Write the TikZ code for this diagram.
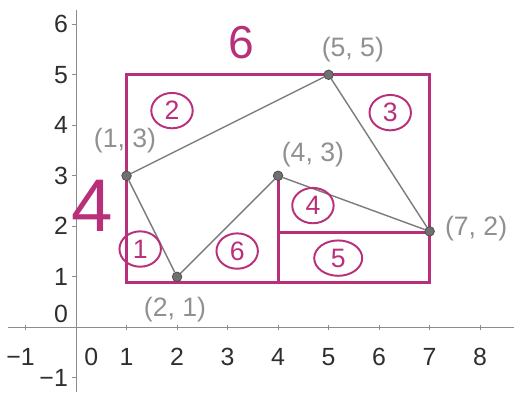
\documentclass[tikz,border=0pt]{standalone}
\usepackage{fontspec}
\setmainfont{Liberation Sans}
\usetikzlibrary{positioning,shapes.geometric}
\definecolor{accent}{HTML}{B8307A}
\definecolor{neutral}{HTML}{7C7C7C}
\definecolor{axisgray}{HTML}{2E2E2E}
\tikzset{
  axislabel/.style={text=axisgray, font=\fontsize{14}{16}\selectfont, inner sep=1pt},
  ptlabel/.style={text=neutral!85, font=\fontsize{15}{18}\selectfont, inner sep=1pt},
  region/.style={draw=accent, ellipse, line width=1.1pt, minimum width=0.82cm, minimum height=0.7cm,
    inner sep=0pt, text=accent, font=\fontsize{15}{18}\selectfont},
  side/.style={text=accent, inner sep=0pt},
  vertex/.style={circle, fill=neutral!90!black, draw=neutral!60!black, inner sep=0pt, minimum size=0.19cm}
}

\begin{document}
\begin{tikzpicture}
  \useasboundingbox (-1.505,-1.29) rectangle (8.67,6.48);
  % axes
  \draw[axisgray!55, line width=0.5pt] (-1.35,0) -- (8.67,0);
  \draw[axisgray!55, line width=0.5pt] (0,-1.29) -- (0,6.28);
  \foreach \x in {1,...,8} {
    \draw[axisgray!55] (\x,-0.05) -- (\x,0.05);
    \node[axislabel] (xl\x) at (\x,-0.58) {\x};
  }
  \draw[axisgray!55] (-1,-0.05) -- (-1,0.05);
  \node[axislabel] (xlneg) at (-1.1,-0.58) {−1};
  \node[axislabel] (xlzero) at (0.3,-0.58) {0};
  \foreach \y in {1,...,6} {
    \draw[axisgray!55] (-0.07,\y) -- (0,\y);
    \node[axislabel, anchor=east] (yl\y) at (-0.12,\y) {\y};
  }
  \draw[axisgray!55] (-0.07,-1) -- (0,-1);
  \node[axislabel, anchor=east] (ylneg) at (-0.12,-1) {−1};
  \node[axislabel, anchor=east] (ylzero) at (-0.12,0.27) {0};

  % bounding rectangle
  \coordinate (SW) at (1,0.88);
  \coordinate (NE) at (7,5);
  \coordinate (M) at (4,0.88);
  \coordinate (R) at (7,1.87);
  \draw[accent, line width=1.6pt] (SW) rectangle (NE);
  \draw[accent, line width=1.6pt] (M) -- (4,3);
  \draw[accent, line width=1.6pt] (4,1.87) -- (R);

  % polygon
  \node[vertex] (A) at (1,3) {};
  \node[vertex] (B) at (5,5) {};
  \node[vertex] (C) at (7,1.9) {};
  \node[vertex] (D) at (4,3) {};
  \node[vertex] (E) at (2,1) {};
  \draw[neutral, line width=0.8pt] (A) -- (B) -- (C) -- (D) -- (E) -- (A);
  \node[ptlabel] (Alab) at (0.97,3.7) {(1, 3)};
  \node[ptlabel] (Blab) at (5.48,5.5) {(5, 5)};
  \node[ptlabel] (Clab) at (7.92,1.95) {(7, 2)};
  \node[ptlabel] (Dlab) at (4.69,3.42) {(4, 3)};
  \node[ptlabel] (Elab) at (1.96,0.36) {(2, 1)};

  % regions
  \node[region] (r1) at (1.27,1.55) {1};
  \node[region] (r2) at (1.9,4.29) {2};
  \node[region] (r3) at (6.22,4.25) {3};
  \node[region] (r4) at (4.69,2.41) {4};
  \node[region, minimum width=0.95cm] (r5) at (5.19,1.37) {5};
  \node[region] (r6) at (3.19,1.51) {6};

  % side lengths
  \node[side, font=\fontsize{26}{30}\selectfont] (top) at (3.27,5.63) {6};
  \node[side, font=\fontsize{42}{46}\selectfont] (left) at (0.33,2.4) {4};
\end{tikzpicture}
\end{document}
